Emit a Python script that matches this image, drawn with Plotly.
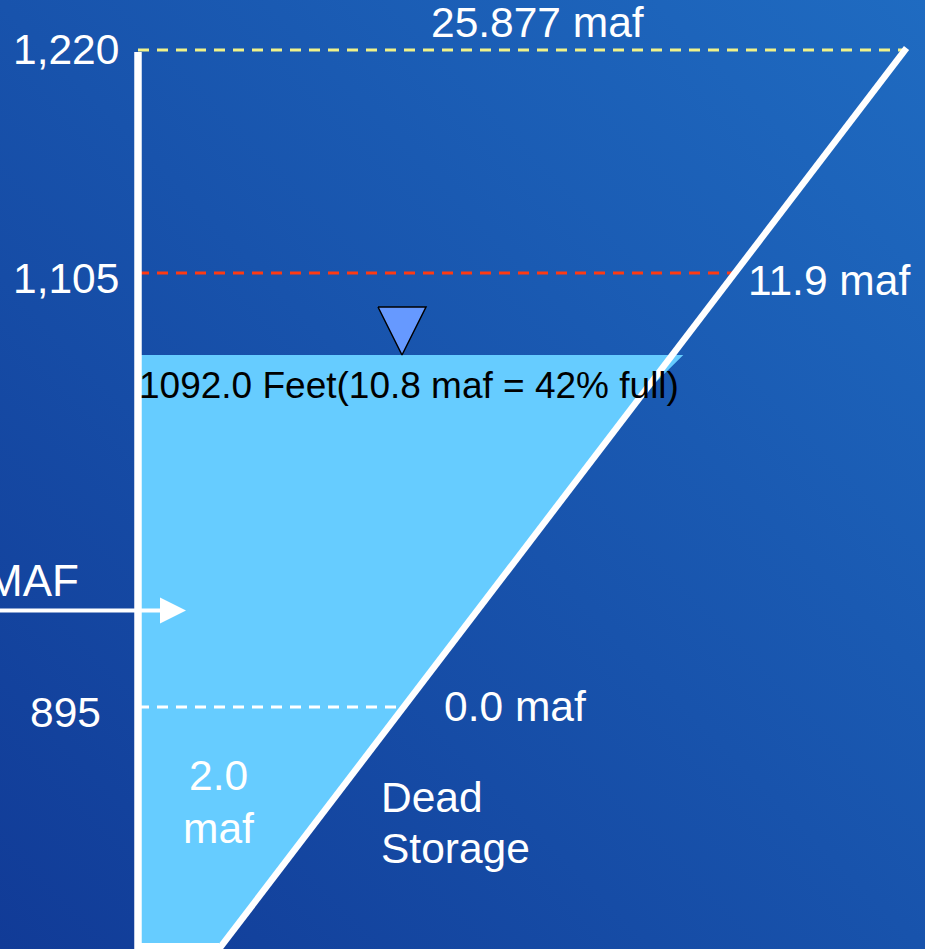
import base64
import plotly.graph_objects as go

# ---- Lake levels ---------------------------------------------------------
elev_ft = [1220, 1105, 895]                 # marked elevations on the dam face
elev_text = ["1,220", "1,105", "895"]
storage_maf = [25.877, 11.9, 0.0]            # live storage at those elevations
current_elev_ft = 1092.0
current_storage_maf = 10.8
percent_full = 42
dead_storage_maf = 2.0
inflow_text = "MAF"

# ---- Schematic geometry (diagram units, origin bottom-left) -------------
W, H = 925, 949
level_h = {1220: 899, 1105: 676, 1092.0: 594, 895: 242}   # not to scale
wall_x = 138          # vertical dam face
base_x = 219          # where the sloping bank meets the floor
crest_x = 905         # top of the sloping bank
floor_h = 0
crest_h = level_h[1220]


def bank_x(h):
    """x position of the sloping bank at diagram height h."""
    return base_x + (h - floor_h) / (crest_h - floor_h) * (crest_x - base_x)


FONT = "Liberation Sans, Arial, sans-serif"
WATER = "#66ccff"
TXT = 42.5

fig = go.Figure()

# ---- water body ----------------------------------------------------------
hw = level_h[current_elev_ft]
fig.add_trace(go.Scatter(
    x=[wall_x, base_x, bank_x(hw - 45), bank_x(hw) + 11, wall_x],
    y=[floor_h, floor_h, hw - 45, hw, hw],
    fill="toself", fillcolor=WATER, line=dict(width=0),
    mode="lines", hoverinfo="skip", showlegend=False))

# ---- dashed reference levels ----------------------------------------------
dash_styles = {1220: ("#f0f28a", 3), 1105: ("#ff3a12", 3), 895: ("#ffffff", 3)}
for e in elev_ft:
    h = level_h[e]
    col, w = dash_styles[e]
    fig.add_trace(go.Scatter(
        x=[wall_x, bank_x(h)], y=[h, h], mode="lines",
        line=dict(color=col, width=w, dash="11px,8px"),
        hoverinfo="skip", showlegend=False))

# ---- dam face, floor and sloping bank --------------------------------------
fig.add_trace(go.Scatter(
    x=[wall_x, wall_x], y=[crest_h - 2, -5], mode="lines",
    line=dict(color="white", width=7.5), hoverinfo="skip", showlegend=False))
fig.add_trace(go.Scatter(
    x=[wall_x - 3, base_x], y=[floor_h + 3, floor_h + 3], mode="lines",
    line=dict(color="white", width=6), hoverinfo="skip", showlegend=False))
fig.add_trace(go.Scatter(
    x=[bank_x(-8), bank_x(crest_h + 2)], y=[-8, crest_h + 2], mode="lines",
    line=dict(color="white", width=6.5), hoverinfo="skip", showlegend=False))

# ---- current water-level marker --------------------------------------------
mx, mhw, mh = 402, 24, 48
fig.add_trace(go.Scatter(
    x=[mx - mhw, mx + mhw, mx, mx - mhw], y=[hw + mh, hw + mh, hw, hw + mh],
    fill="toself", fillcolor="#6699ff", mode="lines",
    line=dict(color="black", width=1.5), hoverinfo="skip", showlegend=False))

# ---- text ------------------------------------------------------------------
ann = []


def label(text, x, y, size=TXT, color="white", xanchor="left"):
    ann.append(dict(x=x, y=y, xref="x", yref="y", text=text, showarrow=False,
                    xanchor=xanchor, yanchor="middle",
                    font=dict(family=FONT, size=size, color=color)))


# elevations
label(elev_text[0], 121, level_h[1220] + 1, xanchor="right")
label(elev_text[1], 121, level_h[1105] - 5, xanchor="right")
label(elev_text[2], 103, level_h[895] - 5, xanchor="right")

# storage at those elevations
label(f"{storage_maf[0]:.3f} maf", 537, 927, xanchor="center")
label(f"{storage_maf[1]:.1f} maf", 746, level_h[1105] - 7)
label(f"{storage_maf[2]:.1f} maf", 442, level_h[895] + 1)

# current level
label(f"{current_elev_ft:.1f} Feet({current_storage_maf} maf = {percent_full}% full)",
      137, hw - 30, size=37, color="black")

# dead storage
label(f"{dead_storage_maf:.1f}", 218, 174, xanchor="center")
label("maf", 218, 121, xanchor="center")
label("Dead", 379, 152)
label("Storage", 379, 101)

# inflow
label(inflow_text, 81, 369, size=44, xanchor="right")
ann.append(dict(x=186, y=338.5, ax=-10, ay=338.5, xref="x", yref="y",
                axref="x", ayref="y", text="", showarrow=True,
                arrowhead=2, arrowsize=1.3, arrowwidth=4, arrowcolor="white",
                standoff=0, startstandoff=0))

# ---- background gradient ---------------------------------------------------
svg = (f'<svg xmlns="http://www.w3.org/2000/svg" width="{W}" height="{H}" '
       f'preserveAspectRatio="none">'
       '<defs><linearGradient id="g" x1="0" y1="1" x2="1" y2="0">'
       '<stop offset="0" stop-color="#113b97"/>'
       '<stop offset="1" stop-color="#1f6bc1"/>'
       '</linearGradient></defs>'
       '<rect width="100%" height="100%" fill="url(#g)"/></svg>')
bg_src = "data:image/svg+xml;base64," + base64.b64encode(svg.encode()).decode()

fig.update_layout(
    width=W, height=H,
    margin=dict(l=0, r=0, t=0, b=0),
    paper_bgcolor="#1a55ad", plot_bgcolor="rgba(0,0,0,0)",
    xaxis=dict(range=[0, W], visible=False, fixedrange=True),
    yaxis=dict(range=[0, H], visible=False, fixedrange=True),
    annotations=ann,
    images=[dict(source=bg_src, xref="paper", yref="paper", x=0, y=1,
                 sizex=1, sizey=1, xanchor="left", yanchor="top",
                 sizing="stretch", layer="below")],
    showlegend=False,
)

fig.write_html("out.html")
